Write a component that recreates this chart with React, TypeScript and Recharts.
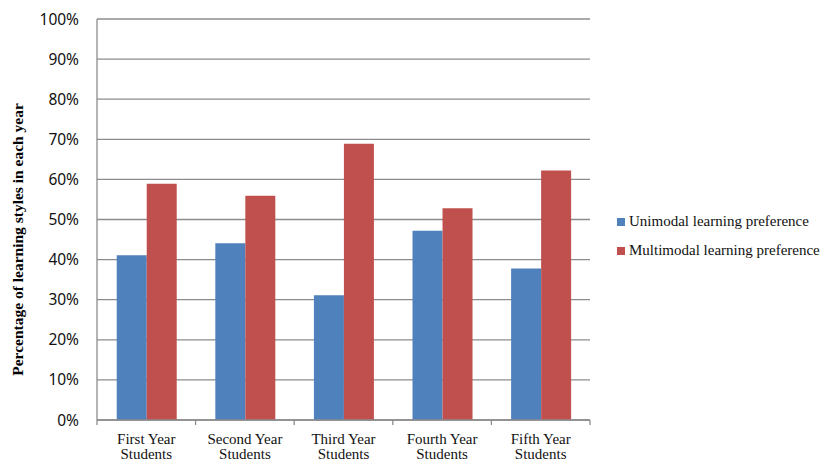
import React from 'react';
import {
  BarChart,
  Bar,
  XAxis,
  YAxis,
  CartesianGrid,
  Legend,
  Label,
} from 'recharts';

const categories = ['First Year|Students', 'Second Year|Students', 'Third Year|Students', 'Fourth Year|Students', 'Fifth Year|Students'];
const unimodal = [41.1, 44.1, 31.1, 47.2, 37.8];
const multimodal = [58.9, 55.9, 68.9, 52.8, 62.2];
const yTicks = [0, 10, 20, 30, 40, 50, 60, 70, 80, 90, 100];

const seriesNames = ['Unimodal learning preference', 'Multimodal learning preference'];
const colors = ['#4F81BD', '#C0504D'];

const data = categories.map((name, i) => ({
  name,
  unimodal: unimodal[i],
  multimodal: multimodal[i],
}));

const W = 823;
const H = 461;
const margin = { top: 19, right: 233, bottom: 0, left: 0 };
const plotLeft = 97;
const plotWidth = W - margin.right - plotLeft;
const band = plotWidth / categories.length;
const gray = '#8C8C8C';
const serif = '"Liberation Serif", "Times New Roman", serif';

// category labels (two lines) plus the separator ticks between categories
function CategoryTick(props: any) {
  const { x, y, payload, index } = props;
  const [l1, l2] = String(payload.value).split('|');
  const left = x - band / 2;
  const isLast = index === categories.length - 1;
  const axisY = y - 8;
  return (
    <g>
      <line x1={left} y1={axisY} x2={left} y2={axisY + 5} stroke={gray} strokeWidth={1.3} />
      {isLast && <line x1={left + band} y1={axisY} x2={left + band} y2={axisY + 5} stroke={gray} strokeWidth={1.3} />}
      <text x={x} y={y + 16} textAnchor="middle" fontFamily={serif} fontSize={15} fill="#111">
        {l1}
      </text>
      <text x={x} y={y + 31} textAnchor="middle" fontFamily={serif} fontSize={15} fill="#111">
        {l2}
      </text>
    </g>
  );
}

function LegendContent() {
  return (
    <div style={{ width: 233, paddingLeft: 27, paddingTop: 11, boxSizing: 'border-box' }}>
      {seriesNames.map((n, i) => (
        <div key={n} style={{ display: 'flex', alignItems: 'center', height: 29, fontFamily: serif, fontSize: 15, color: '#111', whiteSpace: 'nowrap' }}>
          <span style={{ display: 'inline-block', width: 8, height: 8, background: colors[i], marginRight: 4 }} />
          {n}
        </div>
      ))}
    </div>
  );
}

export default function App() {
  return (
    <div style={{ position: 'absolute', left: 0, top: 0, background: '#fff' }}>
      <BarChart width={W} height={H} data={data} margin={{ ...margin, right: 0 }} barCategoryGap="20%" barGap={0}>
        <CartesianGrid vertical={false} stroke={gray} strokeWidth={1.3} />
        <XAxis
          dataKey="name"
          tick={<CategoryTick />}
          tickLine={false}
          axisLine={{ stroke: gray, strokeWidth: 1.3 }}
          interval={0}
          height={41}
        />
        <YAxis
          domain={[0, 100]}
          ticks={yTicks}
          interval={0}
          width={plotLeft}
          tickFormatter={(v: number) => `${v}%`}
          tick={{ fontFamily: '"Noto Sans", "Open Sans", sans-serif', fontSize: 15.5, fill: '#111' }}
          tickLine={false}
          tickMargin={18}
          tickSize={0}
          axisLine={{ stroke: gray, strokeWidth: 1.3 }}
        >
          <Label
            value="Percentage of learning styles in each year"
            angle={-90}
            position="insideLeft"
            offset={17}
            dy={20}
            style={{ textAnchor: 'middle', fontFamily: serif, fontSize: 15.5, fontWeight: 'bold', fill: '#000' }}
          />
        </YAxis>
        <Legend layout="vertical" align="right" verticalAlign="middle" content={<LegendContent />} />
        <Bar dataKey="unimodal" name={seriesNames[0]} fill={colors[0]} isAnimationActive={false} />
        <Bar dataKey="multimodal" name={seriesNames[1]} fill={colors[1]} isAnimationActive={false} />
      </BarChart>
    </div>
  );
}
